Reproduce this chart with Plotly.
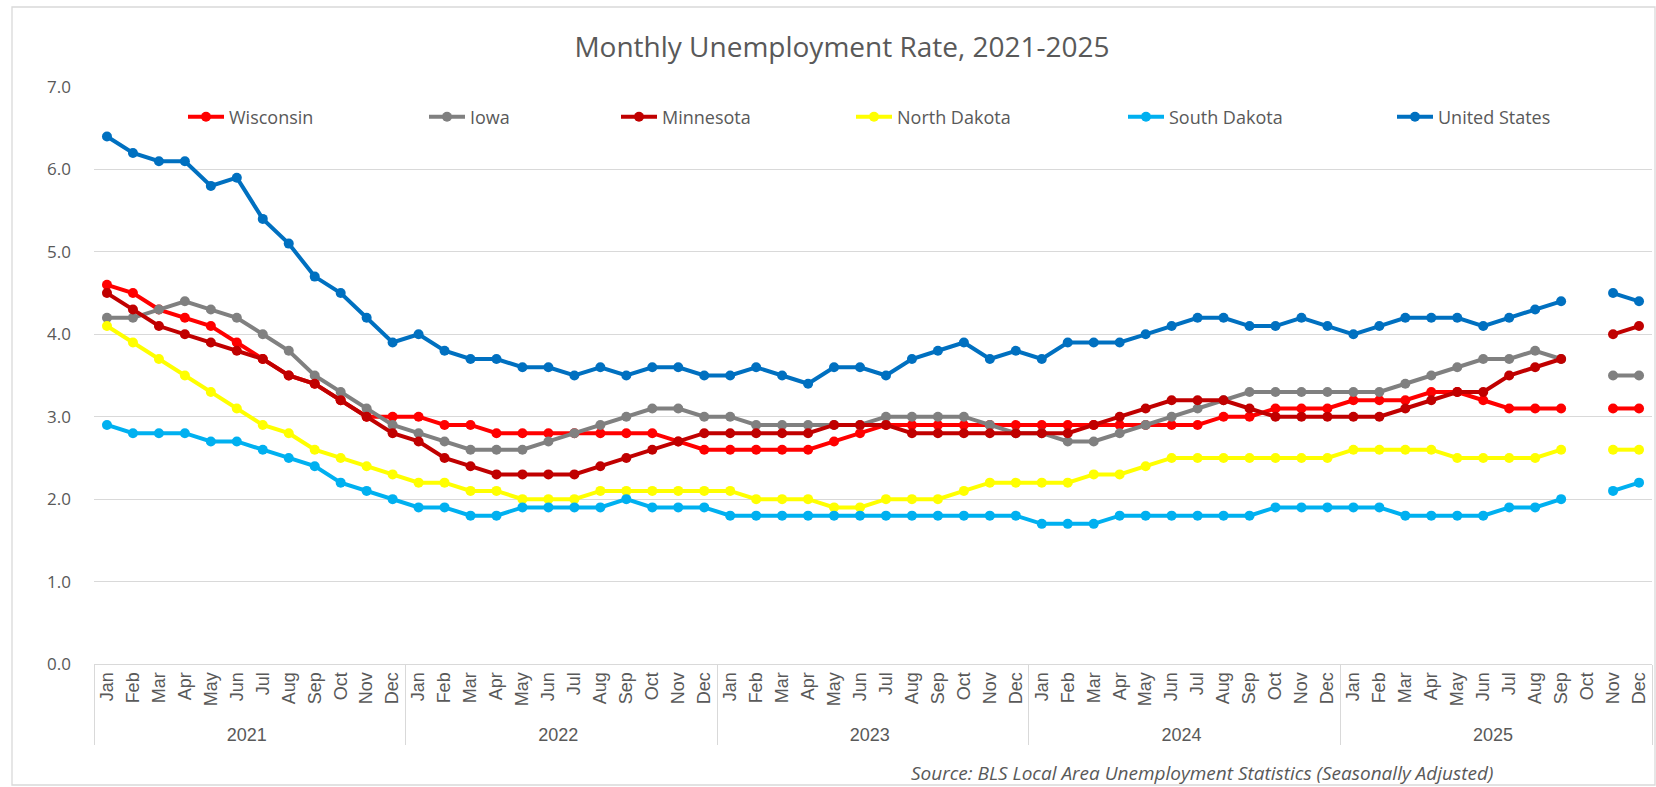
import plotly.graph_objects as go

years = ["2021", "2022", "2023", "2024", "2025"]
months = ["Jan", "Feb", "Mar", "Apr", "May", "Jun", "Jul", "Aug", "Sep", "Oct", "Nov", "Dec"]

wisconsin = [4.6, 4.5, 4.3, 4.2, 4.1, 3.9, 3.7, 3.5, 3.4, 3.2, 3.0, 3.0,
             3.0, 2.9, 2.9, 2.8, 2.8, 2.8, 2.8, 2.8, 2.8, 2.8, 2.7, 2.6,
             2.6, 2.6, 2.6, 2.6, 2.7, 2.8, 2.9, 2.9, 2.9, 2.9, 2.9, 2.9,
             2.9, 2.9, 2.9, 2.9, 2.9, 2.9, 2.9, 3.0, 3.0, 3.1, 3.1, 3.1,
             3.2, 3.2, 3.2, 3.3, 3.3, 3.2, 3.1, 3.1, 3.1, None, 3.1, 3.1]
iowa = [4.2, 4.2, 4.3, 4.4, 4.3, 4.2, 4.0, 3.8, 3.5, 3.3, 3.1, 2.9,
        2.8, 2.7, 2.6, 2.6, 2.6, 2.7, 2.8, 2.9, 3.0, 3.1, 3.1, 3.0,
        3.0, 2.9, 2.9, 2.9, 2.9, 2.9, 3.0, 3.0, 3.0, 3.0, 2.9, 2.8,
        2.8, 2.7, 2.7, 2.8, 2.9, 3.0, 3.1, 3.2, 3.3, 3.3, 3.3, 3.3,
        3.3, 3.3, 3.4, 3.5, 3.6, 3.7, 3.7, 3.8, 3.7, None, 3.5, 3.5]
minnesota = [4.5, 4.3, 4.1, 4.0, 3.9, 3.8, 3.7, 3.5, 3.4, 3.2, 3.0, 2.8,
             2.7, 2.5, 2.4, 2.3, 2.3, 2.3, 2.3, 2.4, 2.5, 2.6, 2.7, 2.8,
             2.8, 2.8, 2.8, 2.8, 2.9, 2.9, 2.9, 2.8, 2.8, 2.8, 2.8, 2.8,
             2.8, 2.8, 2.9, 3.0, 3.1, 3.2, 3.2, 3.2, 3.1, 3.0, 3.0, 3.0,
             3.0, 3.0, 3.1, 3.2, 3.3, 3.3, 3.5, 3.6, 3.7, None, 4.0, 4.1]
north_dakota = [4.1, 3.9, 3.7, 3.5, 3.3, 3.1, 2.9, 2.8, 2.6, 2.5, 2.4, 2.3,
                2.2, 2.2, 2.1, 2.1, 2.0, 2.0, 2.0, 2.1, 2.1, 2.1, 2.1, 2.1,
                2.1, 2.0, 2.0, 2.0, 1.9, 1.9, 2.0, 2.0, 2.0, 2.1, 2.2, 2.2,
                2.2, 2.2, 2.3, 2.3, 2.4, 2.5, 2.5, 2.5, 2.5, 2.5, 2.5, 2.5,
                2.6, 2.6, 2.6, 2.6, 2.5, 2.5, 2.5, 2.5, 2.6, None, 2.6, 2.6]
south_dakota = [2.9, 2.8, 2.8, 2.8, 2.7, 2.7, 2.6, 2.5, 2.4, 2.2, 2.1, 2.0,
                1.9, 1.9, 1.8, 1.8, 1.9, 1.9, 1.9, 1.9, 2.0, 1.9, 1.9, 1.9,
                1.8, 1.8, 1.8, 1.8, 1.8, 1.8, 1.8, 1.8, 1.8, 1.8, 1.8, 1.8,
                1.7, 1.7, 1.7, 1.8, 1.8, 1.8, 1.8, 1.8, 1.8, 1.9, 1.9, 1.9,
                1.9, 1.9, 1.8, 1.8, 1.8, 1.8, 1.9, 1.9, 2.0, None, 2.1, 2.2]
united_states = [6.4, 6.2, 6.1, 6.1, 5.8, 5.9, 5.4, 5.1, 4.7, 4.5, 4.2, 3.9,
                 4.0, 3.8, 3.7, 3.7, 3.6, 3.6, 3.5, 3.6, 3.5, 3.6, 3.6, 3.5,
                 3.5, 3.6, 3.5, 3.4, 3.6, 3.6, 3.5, 3.7, 3.8, 3.9, 3.7, 3.8,
                 3.7, 3.9, 3.9, 3.9, 4.0, 4.1, 4.2, 4.2, 4.1, 4.1, 4.2, 4.1,
                 4.0, 4.1, 4.2, 4.2, 4.2, 4.1, 4.2, 4.3, 4.4, None, 4.5, 4.4]

series_names = ["Wisconsin", "Iowa", "Minnesota", "North Dakota", "South Dakota", "United States"]
series_values = [wisconsin, iowa, minnesota, north_dakota, south_dakota, united_states]
series_colors = ["#FF0000", "#808080", "#C00000", "#FFFF00", "#00B0F0", "#0070C0"]

x_years = [y for y in years for _ in months]
x_months = [m for _ in years for m in months]

W, H = 1656, 787
L, R, T, B = 94, 4, 87, 123
pw = W - L - R
ph = H - T - B

def px_x(p):
    return (p - L) / pw

def px_y(p):
    return (H - B - p) / ph

legend_px = [185, 426, 618, 853, 1125, 1394]
grey = "#595959"
sans = "Open Sans, sans-serif"
axisfont = "Liberation Sans, Arial, sans-serif"

fig = go.Figure()
layout_legends = {}
for i, (name, vals, col) in enumerate(zip(series_names, series_values, series_colors)):
    lg = "legend" if i == 0 else f"legend{i+1}"
    fig.add_trace(go.Scatter(
        x=[x_years, x_months], y=vals, name=name, mode="lines+markers",
        line=dict(color=col, width=4), marker=dict(color=col, size=10),
        connectgaps=False, legend=lg))
    layout_legends[lg] = dict(
        x=px_x(legend_px[i] - 2), y=px_y(117), xanchor="left", yanchor="middle",
        orientation="h", bgcolor="rgba(0,0,0,0)", itemwidth=36,
        font=dict(family=sans, size=18, color=grey))

fig.update_layout(
    width=W, height=H,
    margin=dict(l=L, r=R, t=T, b=B),
    paper_bgcolor="white", plot_bgcolor="white",
    title=dict(text="Monthly Unemployment Rate, 2021-2025",
               x=px_x(842), xref="paper", xanchor="center",
               y=1 - 47 / H, yref="container", yanchor="middle",
               font=dict(family=sans, size=28, color=grey)),
    showlegend=True,
    **layout_legends,
)

fig.update_yaxes(range=[0, 7], dtick=1, tickformat=".1f",
                 showgrid=True, gridcolor="#D9D9D9", gridwidth=1.3,
                 zeroline=False, showline=False, ticks="",
                 ticklabelstandoff=22,
                 tickfont=dict(family=sans, size=17, color=grey))
fig.update_xaxes(type="multicategory", range=[-0.5, 59.5],
                 showgrid=False, showline=True,
                 linecolor="#D9D9D9", linewidth=1.3,
                 showdividers=True, dividercolor="#D9D9D9", dividerwidth=1.3,
                 tickangle=-90, ticks="",
                 tickfont=dict(family=axisfont, size=18, color=grey))

fig.add_annotation(text="<i>Source: BLS Local Area Unemployment Statistics (Seasonally Adjusted)</i>",
                   xref="paper", yref="paper", x=px_x(1202), y=px_y(773),
                   xanchor="center", yanchor="middle", showarrow=False,
                   font=dict(family=sans, size=19, color=grey))

fig.add_shape(type="rect", xref="paper", yref="paper",
              x0=px_x(12), x1=px_x(1655), y0=px_y(785), y1=px_y(7),
              line=dict(color="#D9D9D9", width=1.3), fillcolor="rgba(0,0,0,0)", layer="below")

fig.write_html("out.html", config={"displayModeBar": False},
               post_script="document.body.style.margin='0';document.body.style.overflow='hidden';")
